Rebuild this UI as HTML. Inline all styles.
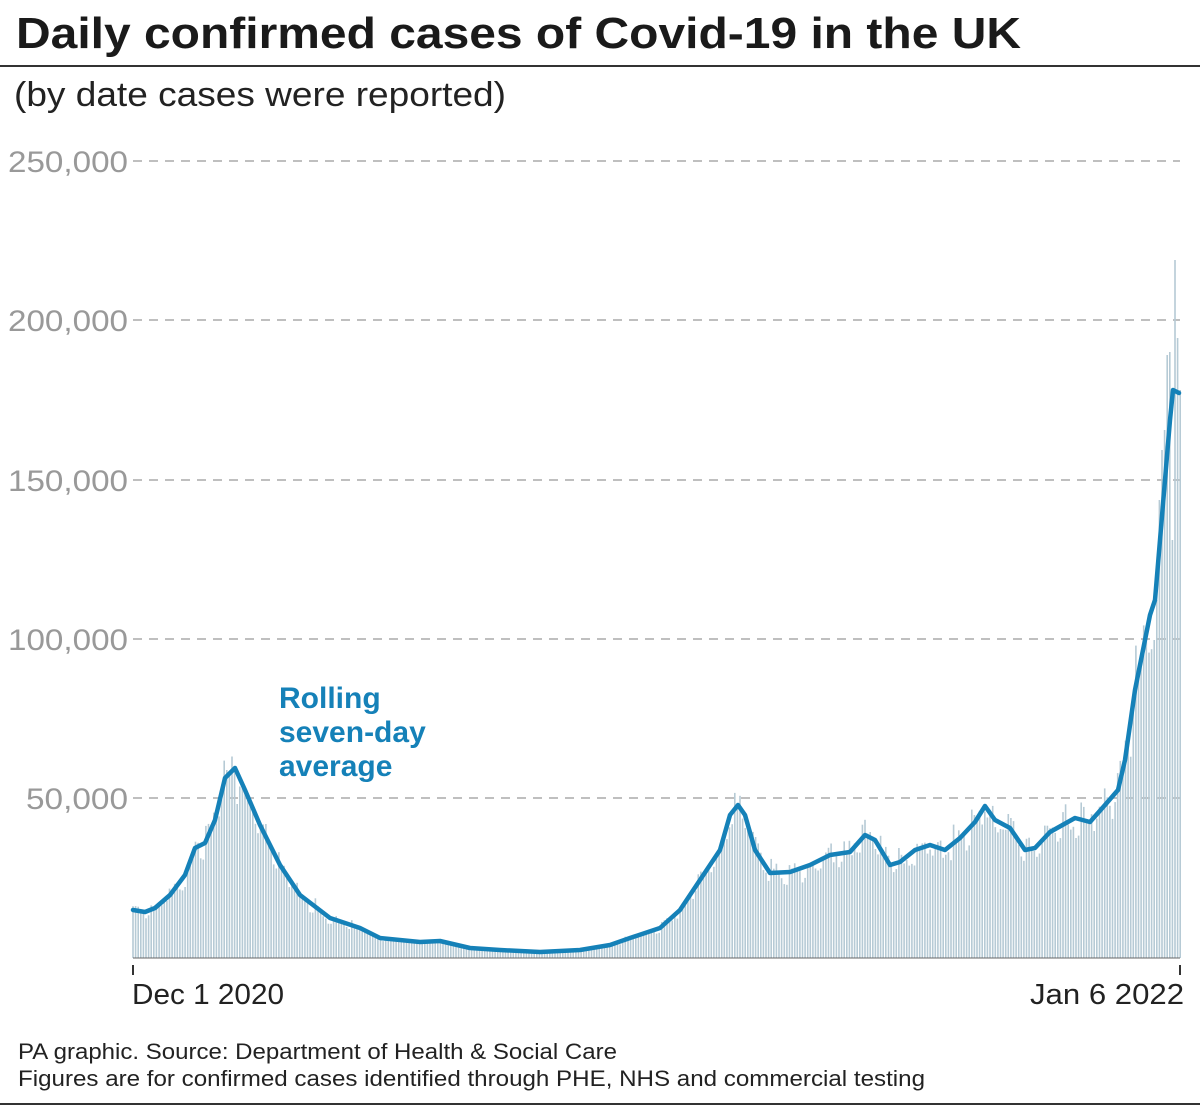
<!DOCTYPE html>
<html><head><meta charset="utf-8"><style>
html,body{margin:0;padding:0;background:#fff;}
body{width:1200px;height:1110px;position:relative;overflow:hidden;font-family:"Liberation Sans",sans-serif;}
</style></head><body>
<svg id="s" width="1200" height="1110" xmlns="http://www.w3.org/2000/svg" style="position:absolute;left:0;top:0">
<text x="16" y="48" font-size="44" font-weight="bold" fill="#1a1a1a" textLength="1005" lengthAdjust="spacingAndGlyphs">Daily confirmed cases of Covid-19 in the UK</text>
<line x1="0" y1="66" x2="1200" y2="66" stroke="#333" stroke-width="2"/>
<text x="14" y="106" font-size="34" fill="#222" textLength="492" lengthAdjust="spacingAndGlyphs">(by date cases were reported)</text>
<g font-size="30" fill="#999">
<text x="8" y="172" textLength="120" lengthAdjust="spacingAndGlyphs">250,000</text>
<text x="8" y="331" textLength="120" lengthAdjust="spacingAndGlyphs">200,000</text>
<text x="8" y="491" textLength="120" lengthAdjust="spacingAndGlyphs">150,000</text>
<text x="8" y="650" textLength="120" lengthAdjust="spacingAndGlyphs">100,000</text>
<text x="26" y="809" textLength="102" lengthAdjust="spacingAndGlyphs">50,000</text>
</g>
<g stroke="#aaa" stroke-width="1.5" stroke-dasharray="9,7">
<line x1="133" y1="161" x2="1180" y2="161"/>
<line x1="133" y1="320" x2="1180" y2="320"/>
<line x1="133" y1="480" x2="1180" y2="480"/>
<line x1="133" y1="639" x2="1180" y2="639"/>
<line x1="133" y1="798" x2="1180" y2="798"/>
</g>
<g id="bars" fill="#b6cad5"></g>
<line x1="133" y1="958" x2="1180" y2="958" stroke="#666" stroke-width="1"/>
<line x1="133" y1="965" x2="133" y2="975" stroke="#333" stroke-width="2"/>
<line x1="1180" y1="965" x2="1180" y2="975" stroke="#333" stroke-width="2"/>
<path id="avg" fill="none" stroke="#1581b8" stroke-width="4.5" stroke-linejoin="round" stroke-linecap="round"/>
<g font-size="30" font-weight="bold" fill="#1581b8">
<text x="279" y="708">Rolling</text>
<text x="279" y="742">seven-day</text>
<text x="279" y="776">average</text>
</g>
<text x="132" y="1004" font-size="29" fill="#222" textLength="152" lengthAdjust="spacingAndGlyphs">Dec 1 2020</text>
<text x="1030" y="1004" font-size="29" fill="#222" textLength="154" lengthAdjust="spacingAndGlyphs">Jan 6 2022</text>
<text x="18" y="1059" font-size="22" fill="#222" textLength="599" lengthAdjust="spacingAndGlyphs">PA graphic. Source: Department of Health &amp; Social Care</text>
<text x="18" y="1086" font-size="22" fill="#222" textLength="907" lengthAdjust="spacingAndGlyphs">Figures are for confirmed cases identified through PHE, NHS and commercial testing</text>
<line x1="0" y1="1104" x2="1200" y2="1104" stroke="#333" stroke-width="2"/>
</svg>
<script>
var k=[[133,910],[145,912],[155,908],[170,895],[185,875],[195,848],[205,843],[215,820],[225,778],[235,768],[245,790],[260,825],[280,865],[300,895],[330,918],[360,928],[380,938],[420,942],[440,941],[470,948],[500,950],[540,952],[580,950],[610,945],[630,938],[660,928],[680,910],[700,880],[720,850],[730,815],[738,805],[745,815],[755,850],[770,873],[790,872],[810,865],[830,855],[850,852],[865,835],[875,840],[890,865],[900,862],[915,850],[930,845],[945,850],[960,838],[975,822],[985,806],[995,820],[1010,828],[1025,850],[1035,848],[1050,832],[1075,818],[1090,822],[1105,805],[1118,790],[1125,760],[1135,690],[1150,615],[1155,600],[1160,540],[1165,480],[1170,420],[1173,390],[1179,393]];
function f(x){for(var i=0;i<k.length-1;i++){if(x<=k[i+1][0]){var t=(x-k[i][0])/(k[i+1][0]-k[i][0]);return k[i][1]+t*(k[i+1][1]-k[i][1]);}}return k[k.length-1][1];}
var d="M"+k[0][0]+","+k[0][1];for(var i=1;i<k.length;i++)d+=" L"+k[i][0]+","+k[i][1];
document.getElementById("avg").setAttribute("d",d);
var g=document.getElementById("bars"),h="",seed=7;
function r(){seed=(seed*9301+49275)%233280;return seed/233280;}
var wk=[1.08,1.06,1.03,1.0,0.97,0.9,0.92];
var endv={395:(958-450),396:(958-430),397:(958-355),398:(958-352),399:(958-540),400:(958-260),401:(958-338),402:(958-390),394:(958-500),393:(958-600),392:(958-640)};
for(var n=0;n<=402;n++){var x=133+n*2.605;var a=958-f(x);var v=a*wk[n%7]*(0.92+0.16*r());
if(endv[n]!==undefined)v=endv[n];
var y=958-v;h+='<rect x="'+(x-0.8).toFixed(1)+'" y="'+y.toFixed(1)+'" width="1.6" height="'+v.toFixed(1)+'"/>';}
g.innerHTML=h;
</script>
</body></html>
